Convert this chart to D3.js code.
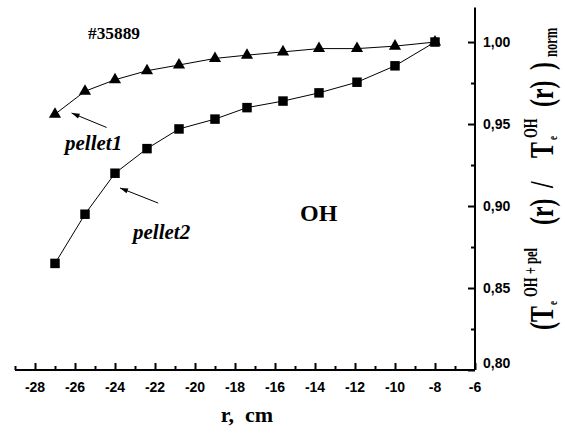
<!DOCTYPE html>
<html>
<head>
<meta charset="utf-8">
<script src="https://cdn.jsdelivr.net/npm/d3@7/dist/d3.min.js"></script>
<style>
  html, body { margin: 0; padding: 0; background: #fff; }
  svg { display: block; }
</style>
</head>
<body>
<svg id="chart" width="565" height="438"></svg>
<script>
// ---- data ----
const rValues = [-27, -25.5, -24, -22.4, -20.8, -19, -17.4, -15.6, -13.8, -11.9, -10, -8];
const pellet1 = [0.956, 0.970, 0.977, 0.9825, 0.986, 0.990, 0.992, 0.994, 0.996, 0.996, 0.9975, 1.0];
const pellet2 = [0.865, 0.895, 0.920, 0.935, 0.947, 0.953, 0.960, 0.964, 0.969, 0.9755, 0.9855, 1.0];
const xTickValues = [-28, -26, -24, -22, -20, -18, -16, -14, -12, -10, -8, -6];
const xTickLabels = ["-28", "-26", "-24", "-22", "-20", "-18", "-16", "-14", "-12", "-10", "-8", "-6"];
const xMinorValues = [-29, -27, -25, -23, -21, -19, -17, -15, -13, -11, -9, -7];
const yTickValues = [0.80, 0.85, 0.90, 0.95, 1.00];
const yTickLabels = ["0,80", "0,85", "0,90", "0,95", "1,00"];
const yMinorValues = [0.825, 0.875, 0.925, 0.975];
const shotLabel = "#35889";
const regimeLabel = "OH";
const xTitle = "r,  cm";

const svg = d3.select("#chart");
const x = d3.scaleLinear().domain([-29, -6]).range([15, 475]);
const y = d3.scaleLinear().domain([0.80, 1.021]).range([370, 7.6]);

const serif = "'Liberation Serif', 'Times New Roman', serif";
const sans = "'Liberation Sans', Arial, sans-serif";

function styleTicks(g) {
  g.select(".domain").remove();
  g.selectAll(".tick line").attr("stroke", "#000").attr("stroke-width", 2);
}

// ---- axes ----
const xAxisG = svg.append("g").attr("transform", `translate(0,${y(0.80)})`);
xAxisG.append("g").call(d3.axisTop(x).tickValues(xTickValues).tickSize(7).tickFormat("")).call(styleTicks);
xAxisG.append("g").call(d3.axisTop(x).tickValues(xMinorValues).tickSize(4).tickFormat("")).call(styleTicks);
xAxisG.append("line").attr("x1", x(-29)).attr("x2", x(-6)).attr("stroke", "#000").attr("stroke-width", 2);
xAxisG.selectAll(".xlab").data(xTickValues).enter().append("text")
  .attr("x", d => x(d)).attr("y", 22).attr("text-anchor", "middle").attr("fill", "#000")
  .attr("font-family", sans).attr("font-weight", "bold").attr("font-size", 14)
  .text((d, i) => xTickLabels[i]);

const yAxisG = svg.append("g").attr("transform", `translate(${x(-6)},0)`);
yAxisG.append("g").call(d3.axisLeft(y).tickValues(yTickValues).tickSize(7).tickFormat("")).call(styleTicks);
yAxisG.append("g").call(d3.axisLeft(y).tickValues(yMinorValues).tickSize(4).tickFormat("")).call(styleTicks);
yAxisG.append("line").attr("y1", y(0.80)).attr("y2", y(1.021)).attr("stroke", "#000").attr("stroke-width", 2);
yAxisG.selectAll(".ylab").data(yTickValues).enter().append("text")
  .attr("x", 8).attr("y", d => y(d) + (d === 0.80 ? -2 : 5)).attr("text-anchor", "start").attr("fill", "#000")
  .attr("font-family", sans).attr("font-weight", "bold").attr("font-size", 14)
  .text((d, i) => yTickLabels[i]);

// ---- series ----
const line = d3.line().x(d => x(d[0])).y(d => y(d[1]));
const s1 = rValues.map((r, i) => [r, pellet1[i]]);
const s2 = rValues.map((r, i) => [r, pellet2[i]]);

svg.append("path").datum(s1).attr("d", line).attr("fill", "none").attr("stroke", "#000").attr("stroke-width", 1);
svg.append("path").datum(s2).attr("d", line).attr("fill", "none").attr("stroke", "#000").attr("stroke-width", 1);

const tri = d3.symbol().type(d3.symbolTriangle).size(64);
const sq = d3.symbol().type(d3.symbolSquare).size(90);
svg.selectAll(".tri").data(s1).enter().append("path")
  .attr("d", tri).attr("transform", d => `translate(${x(d[0])},${y(d[1])})`).attr("fill", "#000");
svg.selectAll(".sq").data(s2).enter().append("path")
  .attr("d", sq).attr("transform", d => `translate(${x(d[0])},${y(d[1])})`).attr("fill", "#000");

// ---- annotations ----
svg.append("text").attr("x", 88).attr("y", 39)
  .attr("font-family", serif).attr("font-weight", "bold").attr("font-size", 17)
  .attr("textLength", 52).attr("lengthAdjust", "spacingAndGlyphs")
  .text(shotLabel);

svg.append("text").attr("x", 300).attr("y", 221)
  .attr("font-family", serif).attr("font-weight", "bold").attr("font-size", 24)
  .text(regimeLabel);

function arrow(x1, y1, x2, y2) {
  const X1 = x(x1), Y1 = y(y1), X2 = x(x2), Y2 = y(y2);
  svg.append("line").attr("x1", X1).attr("y1", Y1).attr("x2", X2).attr("y2", Y2)
    .attr("stroke", "#000").attr("stroke-width", 1);
  const a = Math.atan2(Y2 - Y1, X2 - X1);
  const L = 8, W = 2.5;
  const bx = X2 - L * Math.cos(a), by = Y2 - L * Math.sin(a);
  const px = -Math.sin(a) * W, py = Math.cos(a) * W;
  svg.append("path").attr("d", `M${X2},${Y2}L${bx + px},${by + py}L${bx - px},${by - py}Z`).attr("fill", "#000");
}
arrow(-24.42, 0.9479, -26.17, 0.9567);
arrow(-21.84, 0.9018, -23.75, 0.911);

svg.append("text").attr("x", 65).attr("y", 150)
  .attr("font-family", serif).attr("font-weight", "bold").attr("font-style", "italic").attr("font-size", 21)
  .text("pellet1");
svg.append("text").attr("x", 133).attr("y", 239)
  .attr("font-family", serif).attr("font-weight", "bold").attr("font-style", "italic").attr("font-size", 21)
  .text("pellet2");

// ---- axis titles ----
svg.append("text").attr("x", 247).attr("y", 422).attr("text-anchor", "middle")
  .attr("font-family", serif).attr("font-weight", "bold").attr("font-size", 22)
  .style("white-space", "pre")
  .text(xTitle);

const sx = 0.7;
const yt = svg.append("g").attr("transform", "translate(553,330) rotate(-90)")
  .append("text").attr("transform", `scale(${sx},1)`)
  .attr("font-family", serif).attr("font-weight", "bold").attr("fill", "#000")
  .style("white-space", "pre");
const parts = [
  {t: "(T", p: 0, b: 0, s: 34},
  {t: "e", p: 25, b: 4, s: 13},
  {t: "OH + pel", p: 33, b: -16, s: 18},
  {t: "(r)", p: 105, b: 0, s: 34},
  {t: "/", p: 142, b: 0, s: 34},
  {t: "T", p: 172, b: 0, s: 34},
  {t: "e", p: 190, b: 4, s: 13},
  {t: "OH", p: 192, b: -16, s: 18},
  {t: "(r)", p: 223, b: 0, s: 34},
  {t: ")", p: 260, b: 0, s: 34},
  {t: "norm", p: 273, b: 4, s: 18}
];
parts.forEach(q => yt.append("tspan").attr("x", q.p / sx).attr("y", q.b).attr("font-size", q.s).text(q.t));
</script>
</body>
</html>
